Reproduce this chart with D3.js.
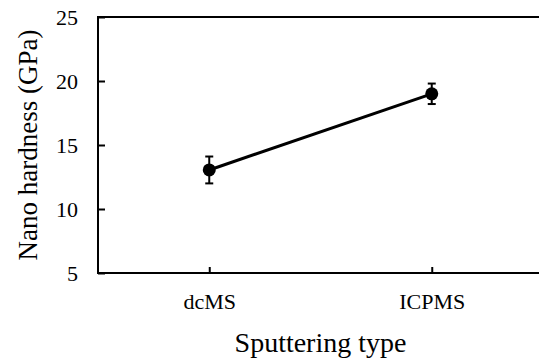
<!DOCTYPE html>
<html>
<head>
<meta charset="utf-8">
<script src="https://cdn.jsdelivr.net/npm/d3@7"></script>
<style>
  body { margin: 0; background: #fff; }
  svg { display: block; }
</style>
</head>
<body>
<svg id="chart"></svg>
<script>
// data
const categories = ['dcMS', 'ICPMS'];
const hardness = [13.05, 19.0];
const errors = [1.05, 0.8];
const yTicks = [5, 10, 15, 20, 25];

const width = 539, height = 361;
const margin = { top: 17, right: -4, bottom: 88, left: 98 };
const serif = "'Liberation Serif', 'Times New Roman', Times, serif";

const svg = d3.select('#chart')
  .attr('width', width)
  .attr('height', height)
  .style('font-family', serif);

const x = d3.scalePoint()
  .domain(categories)
  .range([margin.left, width - margin.right])
  .padding(0.5);

const y = d3.scaleLinear()
  .domain([5, 25])
  .range([height - margin.bottom, margin.top]);

// frame
svg.append('rect')
  .attr('x', margin.left)
  .attr('y', margin.top)
  .attr('width', width - margin.right - margin.left)
  .attr('height', y(5) - y(25))
  .attr('fill', 'none')
  .attr('stroke', '#000')
  .attr('stroke-width', 2);

// y axis, ticks pointing in
const yAxis = svg.append('g')
  .attr('transform', 'translate(' + margin.left + ',0)')
  .call(d3.axisLeft(y).tickValues(yTicks).tickSizeInner(-7).tickSizeOuter(0).tickPadding(20));
yAxis.attr('font-family', serif).attr('font-size', 22);
yAxis.select('.domain').remove();
yAxis.selectAll('line').attr('stroke-width', 2);
yAxis.selectAll('text').attr('fill', '#000');

// x axis
const xAxis = svg.append('g')
  .attr('transform', 'translate(0,' + y(5) + ')')
  .call(d3.axisBottom(x).tickSizeInner(-6).tickSizeOuter(0).tickPadding(20));
xAxis.attr('font-family', serif).attr('font-size', 22);
xAxis.select('.domain').remove();
xAxis.selectAll('line').attr('stroke-width', 2);
xAxis.selectAll('text').attr('fill', '#000');

// line between points
const line = d3.line()
  .x((d, i) => x(categories[i]))
  .y(d => y(d));

svg.append('path')
  .datum(hardness)
  .attr('d', line)
  .attr('fill', 'none')
  .attr('stroke', '#000')
  .attr('stroke-width', 3);

// error bars
const eb = svg.append('g').selectAll('g')
  .data(hardness)
  .enter()
  .append('g');

eb.append('line')
  .attr('x1', (d, i) => x(categories[i]))
  .attr('x2', (d, i) => x(categories[i]))
  .attr('y1', (d, i) => y(d - errors[i]))
  .attr('y2', (d, i) => y(d + errors[i]))
  .attr('stroke', '#000')
  .attr('stroke-width', 2);

[-1, 1].forEach(s => {
  eb.append('line')
    .attr('x1', (d, i) => x(categories[i]) - 4)
    .attr('x2', (d, i) => x(categories[i]) + 4)
    .attr('y1', (d, i) => y(d + s * errors[i]))
    .attr('y2', (d, i) => y(d + s * errors[i]))
    .attr('stroke', '#000')
    .attr('stroke-width', 2);
});

// markers
svg.append('g').selectAll('circle')
  .data(hardness)
  .enter()
  .append('circle')
  .attr('cx', (d, i) => x(categories[i]))
  .attr('cy', d => y(d))
  .attr('r', 6.5)
  .attr('fill', '#000');

// axis titles
svg.append('text')
  .attr('x', (margin.left + width - margin.right) / 2)
  .attr('y', 352)
  .attr('text-anchor', 'middle')
  .attr('font-family', serif)
  .attr('font-size', 28)
  .text('Sputtering type');

svg.append('text')
  .attr('transform', 'translate(37,' + (y(15)) + ') rotate(-90)')
  .attr('text-anchor', 'middle')
  .attr('font-family', serif)
  .attr('font-size', 27)
  .text('Nano hardness (GPa)');
</script>
</body>
</html>
